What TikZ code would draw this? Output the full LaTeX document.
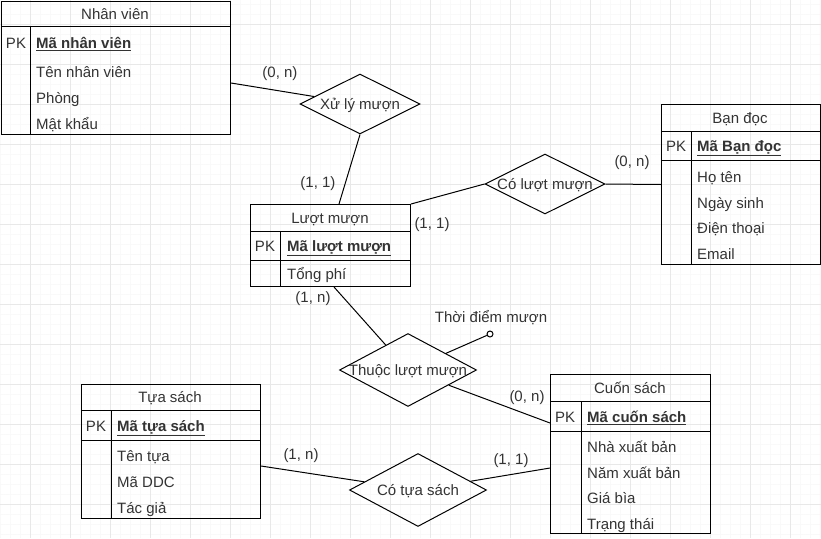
\documentclass[tikz,border=0pt]{standalone}
\usepackage{fontspec}
\setmainfont{Liberation Sans}
\usepackage{tikz}
\usetikzlibrary{shapes.geometric, calc}

\begin{document}
\begin{tikzpicture}[
  x=1pt, y=-1pt,
  every node/.style={font=\fontsize{15}{18}\selectfont, text=black!80},
  gridminor/.style={draw=gray!5, line width=0.8pt},
  gridmajor/.style={draw=gray!18, line width=0.8pt},
  tbl/.style={draw=black, line width=1pt, anchor=north west, inner sep=0pt},
  txt/.style={inner sep=0pt, text height=13pt, text depth=2pt},
  every label/.style={txt},
  attr/.style={txt, anchor=west},
  pkey/.style={attr, font=\fontsize{15}{18}\selectfont\bfseries},
  rel/.style={diamond, draw=black, line width=1pt, inner sep=0pt},
  conn/.style={draw=black, line width=1pt},
  attrdot/.style={circle, draw=black, fill=white, line width=1pt, minimum size=6pt, inner sep=0pt}
]
  \useasboundingbox (0,0) rectangle (821,538);
  \fill[white] (0,0) rectangle (821,538);
  \foreach \gx in {0,10,...,820} \draw[gridminor] (\gx,0) -- (\gx,538);
  \foreach \gy in {4,14,...,534} \draw[gridminor] (0,\gy) -- (821,\gy);
  \foreach \gx in {30,70,...,810} \draw[gridmajor] (\gx,0) -- (\gx,538);
  \foreach \gy in {24,64,...,524} \draw[gridmajor] (0,\gy) -- (821,\gy);

  % Nhan vien
  \node[tbl, minimum width=229pt, minimum height=133pt] (nv) at (1,1) {};
  \draw[conn] ($(nv.north west)+(0,25)$) -- ($(nv.north east)+(0,25)$);
  \draw[conn] ($(nv.north west)+(29,25)$) -- ($(nv.south west)+(29,0)$);
  \node[txt] (nv-title) at (115,14) {Nhân viên};
  \node[txt] (nv-pk) at (16,43) {PK};
  \node[pkey] (nv-key) at (36,43) {\underline{Mã nhân viên}};
  \foreach \name [count=\i] in {Tên nhân viên, Phòng, Mật khẩu}
    \node[attr] (nv-a\i) at (36,46+26*\i) {\name};

  % Luot muon
  \node[tbl, minimum width=160pt, minimum height=82pt] (lm) at (250,204) {};
  \draw[conn] ($(lm.north west)+(0,27)$) -- ($(lm.north east)+(0,27)$);
  \draw[conn] ($(lm.north west)+(0,56)$) -- ($(lm.north east)+(0,56)$);
  \draw[conn] ($(lm.north west)+(30,27)$) -- ($(lm.south west)+(30,0)$);
  \node[txt] (lm-title) at (330,218) {Lượt mượn};
  \node[txt] (lm-pk) at (265,246) {PK};
  \node[pkey] (lm-key) at (287,246) {\underline{Mã lượt mượn}};
  \node[attr] (lm-a1) at (287,274) {Tổng phí};

  % Ban doc
  \node[tbl, minimum width=159pt, minimum height=160pt] (bd) at (661,104) {};
  \draw[conn] ($(bd.north west)+(0,27)$) -- ($(bd.north east)+(0,27)$);
  \draw[conn] ($(bd.north west)+(0,56)$) -- ($(bd.north east)+(0,56)$);
  \draw[conn] ($(bd.north west)+(30,27)$) -- ($(bd.south west)+(30,0)$);
  \node[txt] (bd-title) at (740,118) {Bạn đọc};
  \node[txt] (bd-pk) at (676,146) {PK};
  \node[pkey] (bd-key) at (697,146) {\underline{Mã Bạn đọc}};
  \foreach \name [count=\i] in {Họ tên, Ngày sinh, Điện thoại, Email}
    \node[attr] (bd-a\i) at (697,151.5+25.5*\i) {\name};

  % Cuon sach
  \node[tbl, minimum width=160pt, minimum height=159pt] (cs) at (550,374) {};
  \draw[conn] ($(cs.north west)+(0,27)$) -- ($(cs.north east)+(0,27)$);
  \draw[conn] ($(cs.north west)+(0,57)$) -- ($(cs.north east)+(0,57)$);
  \draw[conn] ($(cs.north west)+(31,27)$) -- ($(cs.south west)+(31,0)$);
  \node[txt] (cs-title) at (630,388) {Cuốn sách};
  \node[txt] (cs-pk) at (565,417) {PK};
  \node[pkey] (cs-key) at (587,417) {\underline{Mã cuốn sách}};
  \foreach \name [count=\i] in {Nhà xuất bản, Năm xuất bản, Giá bìa, Trạng thái}
    \node[attr] (cs-a\i) at (587,421.5+25.5*\i) {\name};

  % Tua sach
  \node[tbl, minimum width=179pt, minimum height=134pt] (ts) at (81,384) {};
  \draw[conn] ($(ts.north west)+(0,26)$) -- ($(ts.north east)+(0,26)$);
  \draw[conn] ($(ts.north west)+(0,56)$) -- ($(ts.north east)+(0,56)$);
  \draw[conn] ($(ts.north west)+(30,26)$) -- ($(ts.south west)+(30,0)$);
  \node[txt] (ts-title) at (170,397) {Tựa sách};
  \node[txt] (ts-pk) at (96,426) {PK};
  \node[pkey] (ts-key) at (117,426) {\underline{Mã tựa sách}};
  \foreach \name [count=\i] in {Tên tựa, Mã DDC, Tác giả}
    \node[attr] (ts-a\i) at (117,430+26*\i) {\name};

  % relationships
  \node[rel, minimum width=120pt, minimum height=60pt, label=center:{Xử lý mượn}] (xlm) at (360,104) {};
  \node[rel, minimum width=120pt, minimum height=60pt, label=center:{Có lượt mượn}] (clm) at (545,184) {};
  \node[rel, minimum width=137pt, minimum height=73pt, label=center:{Thuộc lượt mượn}] (tlm) at (408,370) {};
  \node[rel, minimum width=137pt, minimum height=73pt, label=center:{Có tựa sách}] (cts) at (418,490) {};
  \node[attrdot] (tdm) at (490,334) {};
  \node[txt] (tdm-name) at (491,317) {Thời điểm mượn};

  \draw[conn] ($(nv.north east)+(0,82)$) -- (xlm);
  \draw[conn] (xlm.south) -- ($(lm.north west)+(89,0)$);
  \draw[conn] (lm.north east) -- (clm.west);
  \draw[conn] (clm.east) -- (bd.west);
  \draw[conn] ($(lm.south west)+(84,0)$) -- (tlm);
  \draw[conn] (tlm) -- (tdm);
  \draw[conn] (tlm) -- ($(cs.north west)+(0,49)$);
  \draw[conn] ($(ts.north east)+(0,82)$) -- (cts);
  \draw[conn] (cts) -- ($(cs.north west)+(0,94)$);

  \node[txt] (c-nv) at (280,72) {(0, n)};
  \node[txt] (c-lm1) at (318,182) {(1, 1)};
  \node[txt] (c-lm2) at (432,223) {(1, 1)};
  \node[txt] (c-bd) at (632,161) {(0, n)};
  \node[txt] (c-lm3) at (313,297) {(1, n)};
  \node[txt] (c-cs1) at (527,396) {(0, n)};
  \node[txt] (c-ts) at (301,454) {(1, n)};
  \node[txt] (c-cs2) at (511,459) {(1, 1)};
\end{tikzpicture}
\end{document}
